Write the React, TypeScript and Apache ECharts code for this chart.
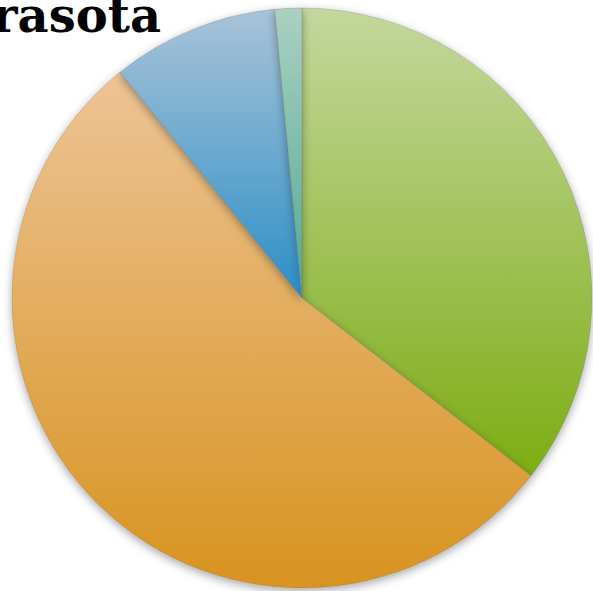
import React, { useEffect, useRef } from "react";
import * as echarts from "echarts";

const categories = ["Green", "Orange", "Blue", "Teal"];
const values = [35.5, 53.7, 9.3, 1.5];
const topColors = ["#c4d79d", "#edc496", "#a9c3d8", "#abd0c1"];
const bottomColors = ["#7dad14", "#d8931f", "#2b8fc6", "#4fa995"];
const titleText = "Sarasota";

export default function App() {
  const ref = useRef<HTMLDivElement>(null);
  useEffect(() => {
    if (!ref.current) return;
    const chart = echarts.init(ref.current, null, { renderer: "svg" });
    chart.setOption({
      animation: false,
      backgroundColor: "#ffffff",
      graphic: [
        {
          type: "text",
          z: 10,
          x: 161,
          y: 15,
          style: {
            text: titleText,
            font: "bold 48px 'DejaVu Serif'",
            fill: "#000000",
            align: "right",
            verticalAlign: "middle",
          },
        },
      ],
      series: [
        {
          type: "pie",
          center: [302, 298],
          radius: [0, 290],
          startAngle: 90,
          clockwise: true,
          label: { show: false },
          labelLine: { show: false },
          silent: true,
          data: categories.map((name, i) => ({
            name,
            value: values[i],
            itemStyle: {
              color: new echarts.graphic.LinearGradient(0, 0, 0, 1, [
                { offset: 0, color: topColors[i] },
                { offset: 1, color: bottomColors[i] },
              ]),
              borderColor: "rgba(110,110,110,0.35)",
              borderWidth: 0.8,
              shadowBlur: 10,
              shadowOffsetX: 0,
              shadowOffsetY: 3,
              shadowColor: "rgba(0,0,0,0.35)",
            },
          })),
        },
      ],
    });
    return () => chart.dispose();
  }, []);
  return (
    <div
      ref={ref}
      style={{ position: "fixed", left: 0, top: 0, width: 593, height: 591 }}
    />
  );
}
